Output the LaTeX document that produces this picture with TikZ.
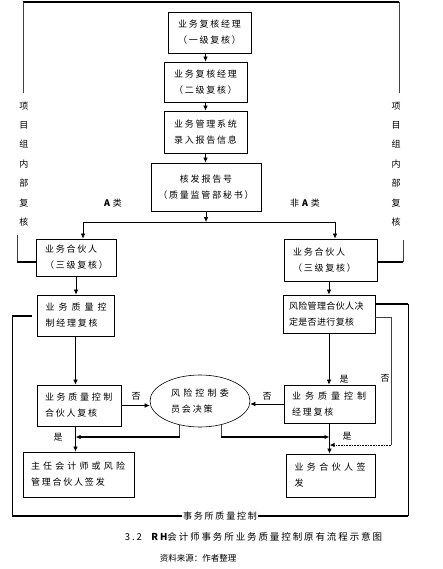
\documentclass[tikz,border=0pt]{standalone}
\usepackage{fontspec}
\newfontfamily\cjk{Noto Sans CJK SC}
\usetikzlibrary{arrows.meta,shapes.geometric,calc}
\newcommand\spr[2]{{\addfontfeature{LetterSpace=#1}#2}}
\tikzset{
  box/.style={draw, line width=0.9pt, inner sep=0pt, align=center,
    font=\cjk\fontsize{9}{16}\selectfont\addfontfeature{LetterSpace=20}},
  lbox/.style={box, align=left, text width=#1},
  arr/.style={-{Latex[length=5pt,width=4.5pt]}, line width=0.6pt},
  thin/.style={line width=0.6pt, black!75},
  frame/.style={line width=1.2pt},
  lab/.style={font=\cjk\fontsize{9}{11}\selectfont, inner sep=1pt}
}
\begin{document}
\begin{tikzpicture}[x=1pt,y=-1pt]
  \useasboundingbox (0,0) rectangle (443,569);
  % review chain
  \node[box, minimum width=83pt, minimum height=41pt] (b1) at (209.5,32.5) {业务复核经理\\（一级复核）};
  \node[box, minimum width=83pt, minimum height=40pt] (b2) at (205.5,82) {业务复核经理\\（二级复核）};
  \node[box, minimum width=83pt, minimum height=42pt] (b3) at (205.5,132) {业务管理系统\\录入报告信息};
  \node[box, minimum width=110pt, minimum height=48pt] (b4) at (206,187) {核发报告号\\（质量监管部秘书）};
  \draw[arr] (b1.south -| b2) -- (b2.north);
  \draw[arr] (b2.south) -- (b3.north);
  \draw[arr] (b3.south) -- (b3.south |- b4.north);
  % A / non-A split
  \coordinate (sp) at (206,222);
  \coordinate (sl) at (83,222);
  \coordinate (sr) at (335,222);
  \draw[arr] (b4.south) -- (b4.south |- sp);
  \draw[line width=1pt] (sl) -- (sr);
  \node[lab] (ta) at (113,203) {{\bfseries A}\hspace{3pt}类};
  \node[lab] (tn) at (305,203) {非\hspace{3pt}{\bfseries A}\hspace{3pt}类};
  % left column
  \node[lbox=62pt, minimum width=80pt, minimum height=37pt] (la) at (76,257.5) {业务合伙人\\（三级复核）};
  \node[lbox=60pt, minimum width=77pt, minimum height=41pt] (lq) at (75.5,315.5) {\spr{45}{业务质量控}\\制经理复核};
  \node[lbox=68pt, minimum width=84pt, minimum height=41pt] (lp) at (79,405.5) {\spr{30}{业务质量控制}\\合伙人复核};
  \node[lbox=95pt, minimum width=111pt, minimum height=45pt] (ls) at (78.5,474.5) {\spr{35}{主任会计师或风险}\\管理合伙人签发};
  \draw[arr] (sl) -- (sl |- la.north);
  \draw[arr] (la.south) -- (la.south |- lq.north);
  \draw[arr] (lq.south) -- (lq.south |- lp.north);
  \draw[arr] (lp.south -| lq) -- (lq |- ls.north);
  % right column
  \node[lbox=75pt, minimum width=93pt, minimum height=42pt] (ra) at (330.5,260) {业务合伙人\\（三级复核）};
  \node[lbox=80pt, minimum width=92pt, minimum height=38pt] (rr) at (329,314) {\spr{4}{风险管理合伙人决}\\\spr{4}{定是否进行复核}};
  \node[lbox=75pt, minimum width=91pt, minimum height=38pt] (rq) at (329.5,404) {\spr{45}{业务质量控制}\\经理复核};
  \node[lbox=72pt, minimum width=89pt, minimum height=43pt] (rs) at (330.5,475.5) {\spr{38}{业务合伙人签}\\发};
  \draw[arr] (sr) -- (sr |- ra.north);
  \draw[arr] (ra.south -| rr) -- (rr.north);
  \draw[arr] (rr.south) -- (rr.south |- rq.north);
  \draw[arr] (rq.south) -- (rq.south |- rs.north);
  % committee
  \node[draw, ellipse, line width=0.6pt, minimum width=100pt, minimum height=52pt, inner sep=0pt,
    align=left, font=\cjk\fontsize{9}{16}\selectfont\addfontfeature{LetterSpace=20}] (ec) at (200,401)
    {\spr{35}{风险控制委}\\员会决策};
  \draw[arr] (lp.east) -- (lp.east -| ec.west);
  \draw[arr] (rq.west) -- (rq.west -| ec.east);
  \coordinate (el) at (180,437);
  \coordinate (er) at (222,437);
  \draw[thin] (ec.230) -- (ec.230 |- el);
  \draw[arr, line width=1.2pt] (ec.230 |- el) -- (lq |- el);
  \draw[thin] (ec.-48) -- (ec.-48 |- er);
  \draw[arr, line width=1.2pt] (ec.-48 |- er) -- (rq |- er);
  \node[lab] (n1) at (136,396) {否};
  \node[lab] (n2) at (267,396) {否};
  \node[lab] (y1) at (58,437) {是};
  \node[lab] (y2) at (344,379) {是};
  \node[lab] (y3) at (347,436) {是};
  \node[lab] (n3) at (385,378) {否};
  % skip loop of the risk partner
  \coordinate (c1) at (391,317);
  \coordinate (c2) at (391,445);
  \draw[thin] (rr.east |- c1) -- (c1) -- (c2);
  \draw[arr, densely dotted, line width=1pt] (c2) -- (c2 -| rq);
  % firm quality control frame
  \node[lab, font=\cjk\fontsize{9}{11}\selectfont\addfontfeature{LetterSpace=20}] (qc) at (220,516) {事务所质量控制};
  \coordinate (f1) at (408,304);
  \coordinate (f2) at (408,516);
  \coordinate (f3) at (12,516);
  \coordinate (f4) at (12,316);
  \coordinate (f5) at (32,316);
  \draw[frame] (rr.east |- f1) -- (f1);
  \draw[line width=0.8pt] (f1) -- (f2);
  \draw[frame] (f2) -- (qc.east);
  \draw[frame] (qc.west) -- (f3);
  \draw[line width=0.8pt] (f3) -- (f4);
  \draw[frame] (f4) -- (f5);
  % project team frame
  \node[lab, align=center, font=\cjk\fontsize{9}{19.4}\selectfont] (vl) at (24,164) {项\\目\\组\\内\\部\\复\\核};
  \node[lab, align=center, font=\cjk\fontsize{9}{19.4}\selectfont] (vr) at (396,164) {项\\目\\组\\内\\部\\复\\核};
  \draw[frame] (23,2) -- (399,2);
  \draw[thin] (23,2) -- (23,93);
  \draw[thin] (399,2) -- (399,93);
  \draw[thin] (17,235) -- (17,262);
  \draw[frame] (17,262) -- (la.west |- 0,262);
  \draw[thin] (403,240) -- (403,262);
  \draw[frame] (403,262) -- (ra.east |- 0,262);
  % caption
  \node[lab, font=\cjk\fontsize{9.5}{11}\selectfont\addfontfeature{LetterSpace=20}] (cap) at (253.5,537) {3.2\quad{\bfseries RH}会计师事务所业务质量控制原有流程示意图};
  \node[lab, font=\cjk\fontsize{8.5}{11}\selectfont] (src) at (198,558) {资料来源：作者整理};
\end{tikzpicture}
\end{document}
